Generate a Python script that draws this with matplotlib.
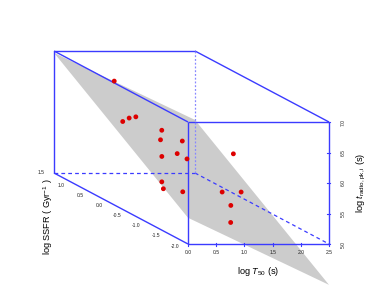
import matplotlib
matplotlib.use("Agg")
import matplotlib.pyplot as plt
import numpy as np

plt.rcParams['font.family'] = ['Liberation Sans', 'DejaVu Sans']
plt.rcParams['mathtext.fontset'] = 'custom'
plt.rcParams['mathtext.rm'] = 'Liberation Sans'
plt.rcParams['mathtext.it'] = 'Liberation Sans:italic'

# ---- data ----
log_T50 = [1.00, 0.37, 0.62, 0.84, 1.30, 1.04, 1.63, 1.20, 0.69, 1.34,
           2.23, 0.35, 0.31, 0.45, 1.59, 2.13, 1.54, 1.13]
log_SSFR = [1.40, 0.25, 0.45, 0.60, 0.60, 0.25, 0.55, 0.05, -0.30, 0.00,
            0.10, -0.80, -0.90, -1.20, -0.55, -0.25, -0.85, -1.45]
log_tradio = [6.54, 6.26, 6.25, 6.22, 6.00, 5.96, 5.84, 5.80, 5.87, 5.73,
              5.78, 5.62, 5.54, 5.59, 5.37, 5.27, 5.25, 5.17]

# regression plane z = a + b*x + c*y
plane_a, plane_b, plane_c = 6.31, -0.44, 0.44

x_range = (0.0, 2.5)
y_range = (-2.0, 1.5)
z_range = (5.0, 7.0)
x_ticks = [0.0, 0.5, 1.0, 1.5, 2.0, 2.5]
y_ticks = [1.5, 1.0, 0.5, 0.0, -0.5, -1.0, -1.5, -2.0]
z_ticks = [5.0, 5.5, 6.0, 6.5, 7.0]

# ---- projection (layout) ----
ORIGIN = np.array([188.0, 244.0])
XV = np.array([141.0, 0.0])
YV = np.array([-134.0, -71.0])
ZV = np.array([0.0, -122.0])


def proj(x, y, z):
    x = np.asarray(x, float); y = np.asarray(y, float); z = np.asarray(z, float)
    fx = (x - x_range[0]) / (x_range[1] - x_range[0])
    fy = (y - y_range[0]) / (y_range[1] - y_range[0])
    fz = (z - z_range[0]) / (z_range[1] - z_range[0])
    px = ORIGIN[0] + fx * XV[0] + fy * YV[0] + fz * ZV[0]
    py = ORIGIN[1] + fx * XV[1] + fy * YV[1] + fz * ZV[1]
    return px, py


fig = plt.figure(figsize=(3.74, 3.07), dpi=100)
ax = fig.add_axes([0, 0, 1, 1])
ax.set_xlim(0, 374)
ax.set_ylim(307, 0)
ax.axis('off')

# plane
cx = [x_range[0], x_range[1], x_range[1], x_range[0]]
cy = [y_range[0], y_range[0], y_range[1], y_range[1]]
cz = [plane_a + plane_b * a + plane_c * b for a, b in zip(cx, cy)]
ppx, ppy = proj(cx, cy, cz)
ax.fill(ppx, ppy, color='#cccccc', lw=0, zorder=1)

# box
blue = '#3b3bff'
x0, x1 = x_range
y0, y1 = y_range
z0, z1 = z_range
solid_edges = [
    ((x0, y1, z1), (x1, y1, z1)),
    ((x0, y1, z1), (x0, y0, z1)),
    ((x1, y1, z1), (x1, y0, z1)),
    ((x0, y0, z1), (x1, y0, z1)),
    ((x1, y0, z1), (x1, y0, z0)),
    ((x0, y0, z0), (x1, y0, z0)),
    ((x0, y0, z1), (x0, y0, z0)),
    ((x0, y1, z1), (x0, y1, z0)),
    ((x0, y1, z0), (x0, y0, z0)),
]
dashed_edges = [
    ((x0, y1, z0), (x1, y1, z0)),
    ((x1, y1, z0), (x1, y0, z0)),
]
dotted_edges = [
    ((x1, y1, z1), (x1, y1, z0)),
]
for a, b in solid_edges:
    px, py = proj([a[0], b[0]], [a[1], b[1]], [a[2], b[2]])
    ax.plot(px, py, color=blue, lw=1.0, solid_capstyle='butt', zorder=2)
for a, b in dashed_edges:
    px, py = proj([a[0], b[0]], [a[1], b[1]], [a[2], b[2]])
    ax.plot(px, py, color=blue, lw=0.9, dashes=(3, 2.5), zorder=2)
for a, b in dotted_edges:
    px, py = proj([a[0], b[0]], [a[1], b[1]], [a[2], b[2]])
    ax.plot(px, py, color='#8888ff', lw=0.9, dashes=(1.5, 1.5), zorder=2)

# x ticks & labels
tick_fs = 3.6
for t in x_ticks:
    px, py = proj(t, y0, z0)
    ax.plot([px, px], [py - 1.5, py + 1.5], color=blue, lw=0.8, zorder=2)
    ax.text(px, py + 9, f"{t:.1f}", ha='center', va='center', fontsize=tick_fs, color='#222222')

# y labels
for t in y_ticks:
    px, py = proj(x0, t, z0)
    ax.text(px - 9, py + (0 if t == y_ticks[0] else 2), f"{t:.1f}", ha='right', va='center',
            fontsize=tick_fs, color='#222222')

# z ticks & labels
for t in z_ticks:
    px, py = proj(x1, y0, t)
    ax.plot([px - 1.5, px + 1.5], [py, py], color=blue, lw=0.8, zorder=2)
    ax.text(px + 14, py, f"{t:.1f}", ha='center', va='center', rotation=90,
            fontsize=tick_fs, color='#222222')

# axis labels
lab_fs = 6.6
ax.text(258, 272, r'log $\mathit{T}_{50}$ (s)', ha='center', va='center', fontsize=lab_fs)
ax.text(361, 183, r'log $\mathit{t}_{\mathrm{radio,pk,i}}$ (s)', ha='center', va='center',
        rotation=90, fontsize=lab_fs)
ax.text(48, 217, r'log SSFR ( Gyr$^{-1}$ )', ha='center', va='center',
        rotation=90, fontsize=lab_fs)

# points
spx, spy = proj(log_T50, log_SSFR, log_tradio)
ax.scatter(spx, spy, s=12, color='#dd0000', edgecolors='none', zorder=3)

fig.savefig('out.png', dpi=100)
